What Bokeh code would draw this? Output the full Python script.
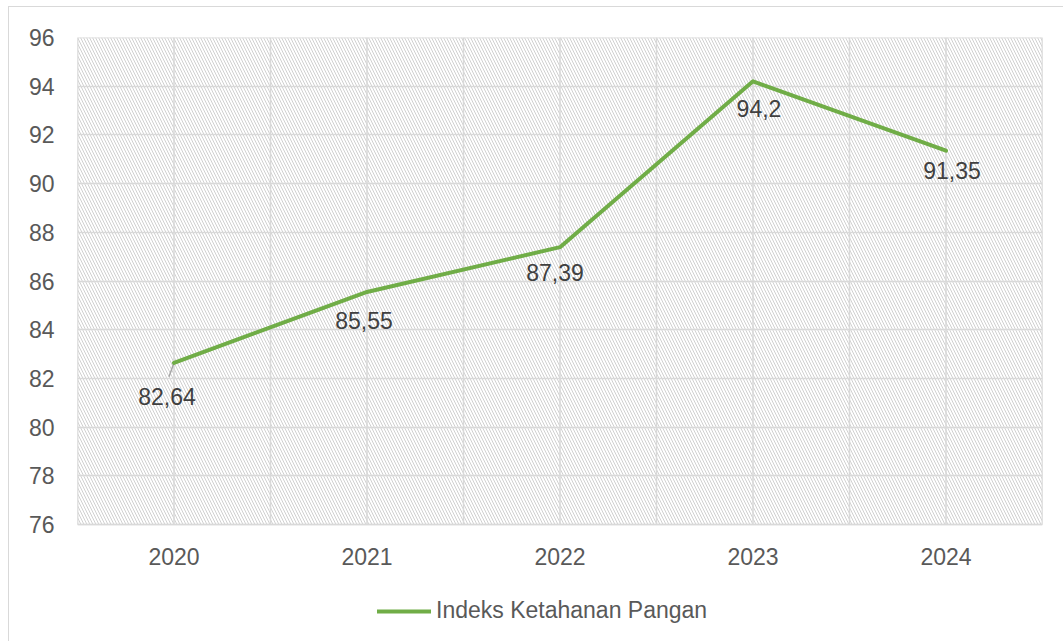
from bokeh.plotting import figure
from bokeh.models import (FixedTicker, Legend, LegendItem,
                          ColumnDataSource, Range1d)
from bokeh.core.properties import value
from bokeh.embed import file_html
from bokeh.resources import INLINE

# ---- data ----
years = ["2020", "2021", "2022", "2023", "2024"]
index_values = [82.64, 85.55, 87.39, 94.2, 91.35]
value_labels = ["82,64", "85,55", "87,39", "94,2", "91,35"]
y_ticks = [76, 78, 80, 82, 84, 86, 88, 90, 92, 94, 96]
series_name = "Indeks Ketahanan Pangan"

# ---- label placement (screen px) ----
label_dx = [-7, -3, -5, 6, 6]
label_dy = [34, 29, 25, 27, 20]

FONT = "Liberation Sans"
GRID = "#D9D9D9"
GREEN = "#70AD47"

# ---- geometry (px) ----
PLOT_W, PLOT_H = 965, 487          # hatched plot area
EXTRA_BELOW = 117                  # room for category labels + legend
px_x = PLOT_W / len(years)
px_y = PLOT_H / (y_ticks[-1] - y_ticks[0])
y_lo = y_ticks[0] - EXTRA_BELOW / px_y

x_pos = [i + 0.5 for i in range(len(years))]
x_bounds = [i * 0.5 for i in range(2 * len(years) + 1)]

p = figure(frame_width=PLOT_W, frame_height=PLOT_H + EXTRA_BELOW,
           output_backend="svg", toolbar_location=None,
           x_range=Range1d(0, len(years)), y_range=Range1d(y_lo, y_ticks[-1]),
           min_border_left=68, min_border_right=21, min_border_top=30,
           min_border_bottom=0)
p.outline_line_color = None
p.background_fill_color = "white"
p.border_fill_color = "white"

# hatched plot area (beneath the grid)
p.quad(left=[0], right=[len(years)], bottom=[y_ticks[0]], top=[y_ticks[-1]],
       fill_alpha=0, line_color=GRID, line_width=1.5,
       hatch_pattern="\\", hatch_color="#D0D0D0",
       hatch_scale=6, hatch_weight=1, level="image")

# grids
p.xgrid.visible = False
p.segment(x0=x_bounds, y0=[y_ticks[0]] * len(x_bounds),
          x1=x_bounds, y1=[y_ticks[-1]] * len(x_bounds),
          line_color=GRID, line_width=1.5, level="underlay")
p.ygrid.ticker = FixedTicker(ticks=y_ticks)
p.ygrid.grid_line_color = GRID
p.ygrid.grid_line_width = 1.5

# axes
p.xaxis.visible = False
p.yaxis.ticker = FixedTicker(ticks=y_ticks)
p.yaxis.major_tick_line_color = None
p.yaxis.minor_tick_line_color = None
p.yaxis.major_tick_out = 0
p.yaxis.major_tick_in = 0
p.yaxis.axis_line_color = None
p.yaxis.major_label_text_font = FONT
p.yaxis.major_label_text_font_size = "23px"
p.yaxis.major_label_text_color = "#595959"
p.yaxis.major_label_standoff = 23

# category labels under the plot area
p.text(x=x_pos, y=[y_ticks[0]] * len(years), text=years, y_offset=32,
       text_align="center", text_baseline="middle",
       text_font=value(FONT), text_font_size="23px", text_color="#595959")

# line
src = ColumnDataSource(dict(x=x_pos, y=index_values, label=value_labels,
                            dx=label_dx, dy=label_dy))
line_r = p.line("x", "y", source=src, line_color=GREEN, line_width=4,
                line_join="round", line_cap="round")

# leader line for first label
p.segment(x0=[x_pos[0]], y0=[index_values[0]],
          x1=[x_pos[0] - 5 / px_x], y1=[index_values[0] - 14 / px_y],
          line_color="#A6A6A6", line_width=1.5, level="underlay")

# data labels
p.text("x", "y", text="label", x_offset="dx", y_offset="dy", source=src,
       text_align="center", text_baseline="middle",
       text_font=value(FONT), text_font_size="23px", text_color="#404040")

legend = Legend(items=[LegendItem(label=series_name, renderers=[line_r])],
                location=(300, 17), glyph_width=54, glyph_height=20,
                label_standoff=5, padding=0, margin=0, spacing=0,
                border_line_alpha=0, background_fill_alpha=0,
                label_text_font=FONT, label_text_font_size="23px",
                label_text_color="#595959")
p.add_layout(legend)

p.styles = {"margin-left": "8px", "margin-top": "6px",
            "border-left": "1px solid #D9D9D9", "border-top": "1px solid #D9D9D9"}

open("out.html", "w").write(file_html(p, INLINE))
